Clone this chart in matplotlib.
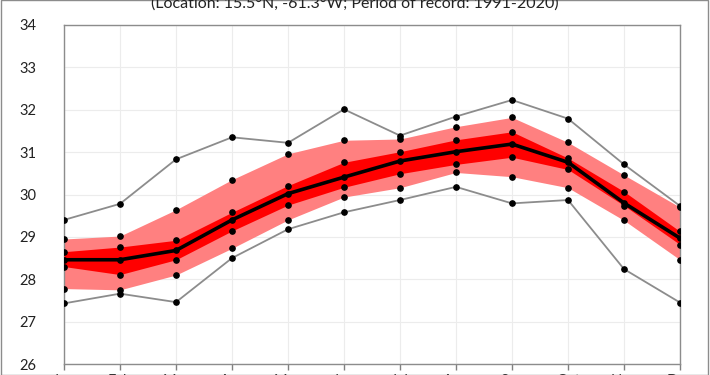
import matplotlib
matplotlib.use('Agg')
import matplotlib.pyplot as plt
from matplotlib.patches import Rectangle

# monthly water temperature statistics
months = ['Jan', 'Feb', 'Mar', 'Apr', 'May', 'Jun',
          'Jul', 'Aug', 'Sep', 'Oct', 'Nov', 'Dec']
t_max = [29.40, 29.78, 30.83, 31.35, 31.22, 32.01, 31.39, 31.84, 32.23, 31.79, 30.71, 29.73]
t_p95 = [28.95, 29.02, 29.64, 30.35, 30.96, 31.28, 31.31, 31.60, 31.82, 31.23, 30.46, 29.70]
t_p75 = [28.65, 28.76, 28.92, 29.58, 30.21, 30.76, 31.01, 31.29, 31.48, 30.86, 30.07, 29.13]
t_mid = [28.46, 28.46, 28.68, 29.40, 30.02, 30.41, 30.79, 31.01, 31.19, 30.76, 29.80, 28.97]
t_p25 = [28.30, 28.11, 28.46, 29.14, 29.75, 30.17, 30.49, 30.71, 30.88, 30.59, 29.74, 28.82]
t_p5 = [27.78, 27.75, 28.10, 28.73, 29.40, 29.94, 30.16, 30.52, 30.42, 30.16, 29.39, 28.46]
t_min = [27.43, 27.66, 27.46, 28.50, 29.18, 29.58, 29.87, 30.18, 29.79, 29.87, 28.24, 27.45]

y_ticks = [26, 27, 28, 29, 30, 31, 32, 33, 34]
title = '(Location: 15.5\u00b0N, -61.3\u00b0W; Period of record: 1991-2020)'

plt.rcParams['font.family'] = ['Lato', 'DejaVu Sans']

fig = plt.figure(figsize=(7.1, 3.75), dpi=100)
ax = fig.add_axes([64 / 710, 11 / 375, 616 / 710, 339 / 375])

x = list(range(len(months)))

ax.fill_between(x, t_p5, t_p95, color='#ff8080', lw=0, zorder=2)
ax.fill_between(x, t_p25, t_p75, color='#ff0000', lw=0, zorder=3)

for s in (t_max, t_min):
    ax.plot(x, s, color='#8c8c8c', lw=1.3, zorder=4)
    ax.plot(x, s, 'o', color='black', ms=3.8, zorder=6)
for s in (t_p95, t_p75, t_p25, t_p5):
    ax.plot(x, s, 'o', color='black', ms=3.8, zorder=6)
ax.plot(x, t_mid, color='black', lw=2.6, marker='o', ms=3.8, zorder=5)

ax.set_xlim(0, 11)
ax.set_ylim(26, 34)
ax.set_yticks(y_ticks)
ax.set_xticks(x)
ax.set_xticklabels(months)
ax.tick_params(axis='y', length=0, pad=20, labelsize=10.5, colors='#222222')
ax.tick_params(axis='x', length=4, width=1, color='#808080', labelsize=10.5,
               labelcolor='#222222', pad=3)
ax.grid(True, color='#ececec', lw=0.8, zorder=0)
ax.set_axisbelow(True)
for sp in ax.spines.values():
    sp.set_color('#8c8c8c')
    sp.set_linewidth(1)

fig.text(0.5, 1 - 8 / 375, title, ha='center', va='baseline', fontsize=11.5,
         color='#222222')

# outer frame around the whole chart
fig.patches.append(Rectangle((0.5 / 710, 0), 707.5 / 710, 1, transform=fig.transFigure,
                             fill=False, edgecolor='#8c8c8c', lw=1))

fig.savefig('out.png', dpi=100)
